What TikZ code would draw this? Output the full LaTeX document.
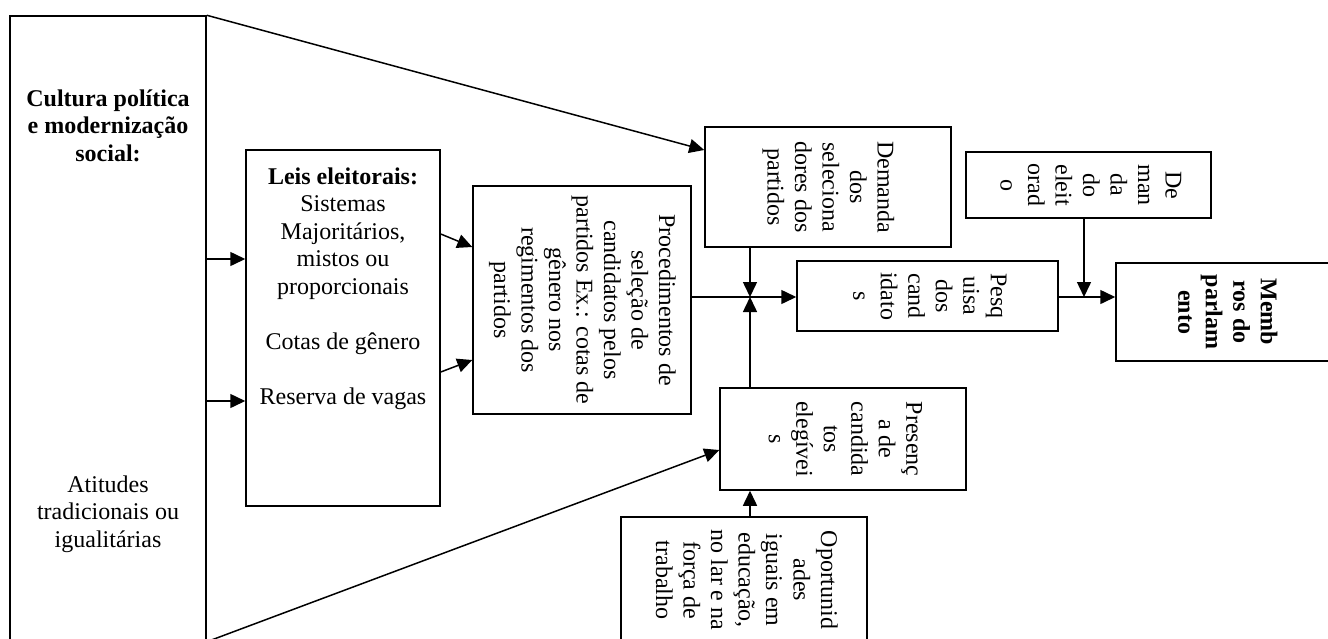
\documentclass[tikz,border=0pt]{standalone}
\usepackage{fontspec}
\setmainfont{Liberation Serif}
\usepackage{graphicx}
\usetikzlibrary{arrows.meta}
\newcommand\mylines[1]{\begin{tabular}{@{}c@{}}#1\end{tabular}}
\newcommand\rotlines[1]{\rotatebox{-90}{\begin{tabular}{@{}c@{}}#1\end{tabular}}}
\begin{document}
\begin{tikzpicture}[x=1pt,y=-1pt,
  every node/.style={font=\fontsize{24}{27.5}\selectfont},
  box/.style={draw, line width=1.5pt, inner sep=0pt},
  lbl/.style={inner sep=0pt},
  conn/.style={line width=1.5pt},
  arr/.style={conn, -{Triangle[length=15pt,width=14pt]}}]
\useasboundingbox (0,0) rectangle (1328,638);
\fill[white] (0,0) rectangle (1328,638);
\clip (0,0) rectangle (1328,638);

% left big box
\node[box, minimum width=196pt, minimum height=625pt] (cult) at (108,328.5) {};
\node[lbl] (cultT) at (108,128) {\bfseries\mylines{Cultura política\\e modernização\\social:}};
\node[lbl] (atit) at (108,514) {\mylines{Atitudes\\tradicionais ou\\igualitárias}};

% Leis eleitorais
\node[box, minimum width=194pt, minimum height=356pt] (leis) at (343,328) {};
\node[lbl, anchor=north] (leisT) at (343,165) {\mylines{\textbf{Leis eleitorais:}\\Sistemas\\Majoritários,\\mistos ou\\proporcionais\\ \\Cotas de gênero\\ \\Reserva de vagas}};

% Procedimentos
\node[box, minimum width=218pt, minimum height=228pt] (proc) at (582,300)
  {\rotlines{Procedimentos de\\seleção de\\candidatos pelos\\partidos Ex.: cotas de\\gênero nos\\regimentos dos\\partidos}};

% Demanda dos selecionadores
\node[box, minimum width=246pt, minimum height=120pt] (dem) at (828,187)
  {\rotlines{Demanda\\dos\\seleciona\\dores dos\\partidos}};

% Pesquisa
\node[box, minimum width=261pt, minimum height=70pt] (pesq) at (927.5,296)
  {\rotlines{Pesq\\uisa\\dos\\cand\\idato\\s}};

% Demanda do eleitorado
\node[box, minimum width=245pt, minimum height=66pt] (deme) at (1088.5,185)
  {\rotlines{De\\man\\da\\do\\eleit\\orad\\o}};

% Membros
\node[box, minimum width=218pt, minimum height=98pt] (memb) at (1225,312)
  {\bfseries\rotlines{Memb\\ros do\\parlam\\ento}};

% Presença
\node[box, minimum width=246pt, minimum height=102pt] (pres) at (843,439)
  {\rotlines{Presenç\\a de\\candida\\tos\\elegívei\\s}};

% Oportunidades
\node[box, minimum width=246pt, minimum height=126pt] (opor) at (744,580)
  {\rotlines{Oportunid\\ades\\iguais em\\educação,\\no lar e na\\força de\\trabalho}};

\coordinate (j1) at (750,297);
\coordinate (j2) at (1084,297);

% connectors
\draw[arr] (cult.north east) -- (dem.west |- 0,150);
\draw[arr] (cult.east |- 0,259) -- (leis.west |- 0,259);
\draw[arr] (cult.east |- 0,401) -- (leis.west |- 0,401);
\draw[arr] (cult.south east) -- (pres.west |- 0,450);
\draw[arr] (leis.east |- 0,234) -- (proc.west |- 0,247);
\draw[arr] (leis.east |- 0,372) -- (proc.west |- 0,360);
\draw[conn] (proc.east |- j1) -- (j1);
\draw[arr] (j1) -- (pesq.west |- j1);
\draw[arr] (j1 |- dem.south) -- (j1);
\draw[arr] (j1 |- pres.north) -- (j1);
\draw[arr] (j1 |- opor.north) -- (j1 |- pres.south);
\draw[arr] (pesq.east |- j2) -- (memb.west |- j2);
\draw[arr] (j2 |- deme.south) -- (j2);
\end{tikzpicture}
\end{document}
